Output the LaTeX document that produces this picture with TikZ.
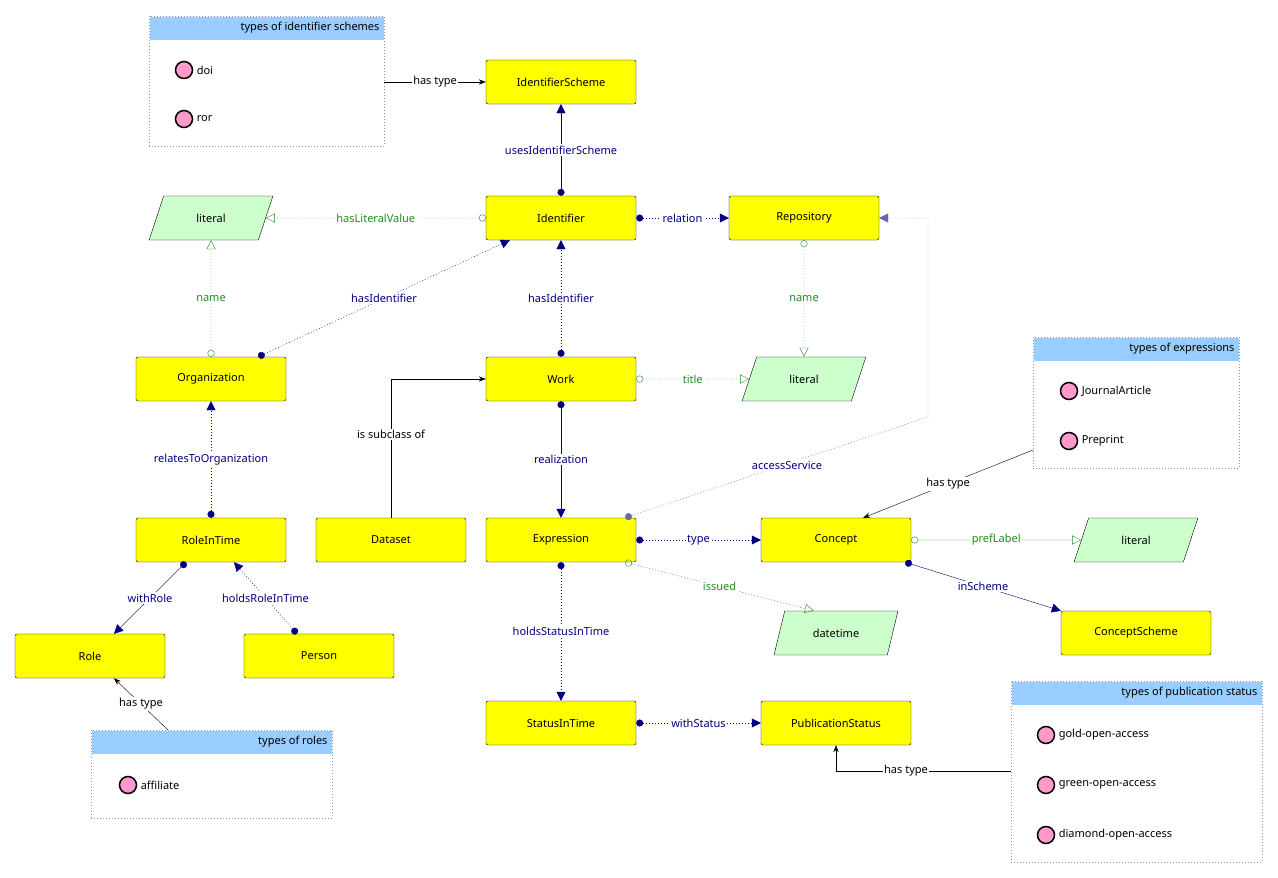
\documentclass[tikz,border=0pt]{standalone}
\usepackage{fontspec}
\setmainfont{Noto Sans}
\usetikzlibrary{arrows.meta, shapes.geometric, calc}
\definecolor{clsy}{HTML}{FFFF00}
\definecolor{litg}{HTML}{CCFFCC}
\definecolor{prop}{HTML}{000080}
\definecolor{dprop}{HTML}{228B22}
\definecolor{hdr}{HTML}{99CCFF}
\definecolor{indiv}{HTML}{FF99CC}
\begin{document}
\begin{tikzpicture}[x=1pt,y=-1pt,font=\fontsize{11}{13}\selectfont,
  cls/.style={draw, rounded corners=2pt, fill=clsy, minimum width=150, minimum height=44},
  lit/.style={draw, trapezium, trapezium left angle=70, trapezium right angle=110,
    trapezium stretches=true, fill=litg, minimum width=124, minimum height=44},
  obj/.style={prop, -{Triangle[length=9,width=9]}},
  dat/.style={dprop, -{Triangle[open,length=9,width=9]}},
  dotted/.style={dash pattern=on 1pt off 2pt},
  lbl/.style={fill=white, inner sep=1.5pt},
  tbox/.style={draw=prop!45, dotted, anchor=north west},
  ind/.style={circle, draw, line width=1.5pt, fill=indiv, minimum size=17, inner sep=0},
  typ/.style={-{Stealth[length=7]}}]
\useasboundingbox (0,0) rectangle (1278,878);
% classes
\node[cls] (scheme) at (561,82) {IdentifierScheme};
\node[cls] (ident) at (561,218) {Identifier};
\node[cls] (repo) at (804,218) {Repository};
\node[cls] (org) at (211,379) {Organization};
\node[cls] (work) at (561,379) {Work};
\node[cls] (rit) at (211,540) {RoleInTime};
\node[cls] (dataset) at (391,540) {Dataset};
\node[cls] (expr) at (561,540) {Expression};
\node[cls] (concept) at (836,540) {Concept};
\node[cls] (cscheme) at (1136,633) {ConceptScheme};
\node[cls] (role) at (90,656) {Role};
\node[cls] (person) at (319,656) {Person};
\node[cls] (sit) at (561,723) {StatusInTime};
\node[cls] (pubstat) at (836,723) {PublicationStatus};
% literals
\node[lit] (litA) at (211,218) {literal};
\node[lit] (litB) at (804,379) {literal};
\node[lit] (litC) at (1136,540) {literal};
\node[lit] (dtime) at (836,633) {datetime};
% boxes of individuals
\node[tbox, minimum width=235, minimum height=130] (bSchemes) at (149,16) {};
\fill[hdr] (149.5,16.5) rectangle (383.5,40);
\node[anchor=east] at (383,28) {types of identifier schemes};
\node[ind] (doi) at (184,70) {}; \node[anchor=west] at (doi.east) {doi};
\node[ind] (ror) at (184,119) {}; \node[anchor=west] at (ror.east) {ror};
\node[tbox, minimum width=206, minimum height=131] (bExpr) at (1033,337) {};
\fill[hdr] (1033.5,337.5) rectangle (1238.5,361);
\node[anchor=east] at (1238,349) {types of expressions};
\node[ind] (jart) at (1069,391) {}; \node[anchor=west] at (jart.east) {JournalArticle};
\node[ind] (prep) at (1069,441) {}; \node[anchor=west] at (prep.east) {Preprint};
\node[tbox, minimum width=241, minimum height=88] (bRoles) at (91,730) {};
\fill[hdr] (91.5,730.5) rectangle (331.5,754);
\node[anchor=east] at (331,742) {types of roles};
\node[ind] (aff) at (128,785) {}; \node[anchor=west] at (aff.east) {affiliate};
\node[tbox, minimum width=251, minimum height=181] (bStatus) at (1011,681) {};
\fill[hdr] (1011.5,681.5) rectangle (1261.5,705);
\node[anchor=east] at (1261,693) {types of publication status};
\node[ind] (gold) at (1046,735) {}; \node[anchor=west] at (gold.east) {gold-open-access};
\node[ind] (green) at (1046,785) {}; \node[anchor=west] at (green.east) {green-open-access};
\node[ind] (diam) at (1046,835) {}; \node[anchor=west] at (diam.east) {diamond-open-access};
% object properties
\draw[obj, {Circle[length=7]}-{Triangle[length=9,width=9]}] (ident.north) -- node[lbl]{usesIdentifierScheme} (scheme.south);
\draw[obj, dotted, {Circle[length=7]}-{Triangle[length=9,width=9]}] (ident.east) -- node[lbl]{relation} (repo.west);
\draw[obj, dotted, {Circle[length=7]}-{Triangle[length=9,width=9]}] (org.north east) ++(-28,0) coordinate (oA) (oA) -- node[lbl]{hasIdentifier} ($(ident.south west)+(24,0)$);
\draw[obj, dotted, {Circle[length=7]}-{Triangle[length=9,width=9]}] (work.north) -- node[lbl]{hasIdentifier} (ident.south);
\draw[obj, {Circle[length=7]}-{Triangle[length=9,width=9]}] (work.south) -- node[lbl]{realization} (expr.north);
\draw[obj, dotted, draw=prop!60, {Circle[length=7]}-{Triangle[length=9,width=9]}] ($(expr.north east)+(-11,0)$) -- (928,417) -- (928,218) -- (repo.east);
\node[prop, lbl] (lAccess) at (787,465) {accessService};
\draw[obj, dotted, {Circle[length=7]}-{Triangle[length=9,width=9]}] (expr.east) -- node[lbl]{type} (concept.west);
\draw[obj, {Circle[length=7]}-{Triangle[length=9,width=9]}] ($(concept.south east)+(-6,0)$) -- node[lbl]{inScheme} ($(cscheme.north west)+(0,0)$);
\draw[obj, dotted, {Circle[length=7]}-{Triangle[length=9,width=9]}] (expr.south) -- node[lbl]{holdsStatusInTime} (sit.north);
\draw[obj, dotted, {Circle[length=7]}-{Triangle[length=9,width=9]}] (sit.east) -- node[lbl]{withStatus} (pubstat.west);
\draw[obj, dotted, {Circle[length=7]}-{Triangle[length=9,width=9]}] (rit.north) -- node[lbl]{relatesToOrganization} (org.south);
\draw[obj, {Circle[length=7]}-{Triangle[length=9,width=9]}] ($(rit.south)+(-25,0)$) -- node[lbl]{withRole} ($(role.north)+(24,0)$);
\draw[obj, dotted, {Circle[length=7]}-{Triangle[length=9,width=9]}] ($(person.north)+(-22,0)$) -- node[lbl]{holdsRoleInTime} ($(rit.south)+(23,0)$);
% datatype properties
\draw[dat, dotted, {Circle[open,length=7]}-{Triangle[open,length=9,width=9]}] (ident.west) -- node[lbl]{hasLiteralValue} (litA.east);
\draw[dat, dotted, {Circle[open,length=7]}-{Triangle[open,length=9,width=9]}] (org.north) -- node[lbl]{name} (litA.south);
\draw[dat, dotted, {Circle[open,length=7]}-{Triangle[open,length=9,width=9]}] (repo.south) -- node[lbl]{name} (litB.north);
\draw[dat, dotted, {Circle[open,length=7]}-{Triangle[open,length=9,width=9]}] (work.east) -- node[lbl]{title} (litB.west);
\draw[dat, {Circle[open,length=7]}-{Triangle[open,length=9,width=9]}] (concept.east) -- node[lbl]{prefLabel} (litC.west);
\draw[dat, dotted, {Circle[open,length=7]}-{Triangle[open,length=9,width=9]}] ($(expr.south east)+(-11,0)$) -- node[lbl]{issued} ($(dtime.north west)+(0,0)$);
% subclass and has type
\draw[typ] (dataset.north) |- node[lbl, pos=0.3]{is subclass of} (work.west);
\draw[typ] (bSchemes.east |- scheme) -- node[lbl]{has type} (scheme.west);
\draw[typ] (1033,450) -- node[lbl]{has type} ($(concept.north east)+(-48,0)$);
\draw[typ] (bStatus.west |- 0,771) -| node[lbl, pos=0.3]{has type} (pubstat.south);
\draw[typ] (168,730) -- node[lbl]{has type} ($(role.south)+(24,0)$);
\end{tikzpicture}
\end{document}
